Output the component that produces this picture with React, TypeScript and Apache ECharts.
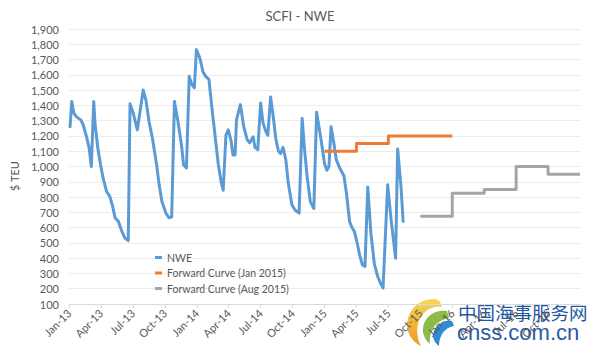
import React, { useEffect, useRef } from "react";
import * as echarts from "echarts";

// ---- data ----
const MONTH_NAMES = ["Jan", "Feb", "Mar", "Apr", "May", "Jun", "Jul", "Aug", "Sep", "Oct", "Nov", "Dec"];
const AXIS_START_YEAR = 2013;

const NWE_DATES = [
  "2013-01-04", "2013-01-09", "2013-01-15", "2013-01-23", "2013-02-04", "2013-02-10", "2013-02-19", "2013-02-26",
  "2013-03-04", "2013-03-11", "2013-03-15", "2013-03-23", "2013-03-31", "2013-04-07", "2013-04-17", "2013-04-26",
  "2013-05-04", "2013-05-11", "2013-05-21", "2013-05-31", "2013-06-09", "2013-06-18", "2013-06-23", "2013-07-02",
  "2013-07-14", "2013-07-31", "2013-08-08", "2013-08-17", "2013-08-27", "2013-09-08", "2013-09-15", "2013-09-23",
  "2013-10-04", "2013-10-13", "2013-10-21", "2013-10-29", "2013-11-08", "2013-11-18", "2013-11-24", "2013-12-02",
  "2013-12-10", "2013-12-18", "2013-12-25", "2013-12-31", "2014-01-10", "2014-01-19", "2014-01-27", "2014-02-05",
  "2014-02-13", "2014-02-21", "2014-03-02", "2014-03-10", "2014-03-16", "2014-03-24", "2014-03-31", "2014-04-08",
  "2014-04-13", "2014-04-19", "2014-04-23", "2014-05-04", "2014-05-14", "2014-05-24", "2014-05-31", "2014-06-10",
  "2014-06-15", "2014-06-23", "2014-07-01", "2014-07-08", "2014-07-16", "2014-07-22", "2014-07-30", "2014-08-06",
  "2014-08-14", "2014-08-22", "2014-08-28", "2014-09-04", "2014-09-12", "2014-09-19", "2014-09-29", "2014-10-08",
  "2014-10-20", "2014-10-29", "2014-11-04", "2014-11-12", "2014-11-21", "2014-12-01", "2014-12-09", "2014-12-22",
  "2015-01-01", "2015-01-08", "2015-01-14", "2015-01-20", "2015-01-28", "2015-02-04", "2015-02-13", "2015-02-24",
  "2015-03-03", "2015-03-12", "2015-03-18", "2015-03-26", "2015-04-03", "2015-04-10", "2015-04-18", "2015-04-25",
  "2015-05-03", "2015-05-12", "2015-05-22", "2015-06-01", "2015-06-10", "2015-06-16", "2015-06-29", "2015-07-09",
  "2015-07-22", "2015-07-28", "2015-08-07", "2015-08-13",
];
const NWE_VALUES = [
  1260, 1425, 1350, 1325, 1305, 1275, 1195, 1120,
  1000, 1425, 1275, 1120, 1010, 925, 835, 805,
  740, 665, 640, 575, 530, 515, 1410, 1350,
  1240, 1500, 1435, 1295, 1185, 1010, 880, 770,
  695, 665, 670, 1425, 1295, 1140, 1010, 990,
  1590, 1535, 1515, 1765, 1710, 1620, 1590, 1570,
  1380, 1205, 1010, 900, 845, 1205, 1240, 1165,
  1075, 1075, 1305, 1405, 1260, 1175, 1155, 1195,
  1125, 1110, 1415, 1285, 1230, 1205, 1455, 1340,
  1185, 1100, 1085, 1125, 1045, 890, 750, 715,
  695, 1315, 1130, 935, 770, 725, 1355, 1175,
  1020, 975, 1000, 1260, 1155, 1045, 990, 940,
  825, 640, 605, 575, 500, 420, 355, 345,
  865, 565, 365, 280, 230, 205, 880, 650,
  400, 1115, 860, 640,
];

const FWD_JAN_DATES = ["2015-01-01", "2015-04-01", "2015-07-01", "2015-10-01", "2016-01-01"];
const FWD_JAN_VALUES = [1100, 1150, 1200, 1200, 1200];

const FWD_AUG_DATES = ["2015-10-01", "2016-01-01", "2016-04-01", "2016-07-01", "2016-10-01", "2017-01-01"];
const FWD_AUG_VALUES = [675, 825, 850, 1000, 950, 950];

const SERIES_NAMES = ["NWE", "Forward Curve (Jan 2015)", "Forward Curve (Aug 2015)"];

// date -> months since Jan of AXIS_START_YEAR
function toMonth(s: string): number {
  const [y, m, d] = s.split("-").map(Number);
  const dim = new Date(y, m, 0).getDate();
  return (y - AXIS_START_YEAR) * 12 + (m - 1) + (d - 1) / dim;
}
function pairs(dates: string[], values: number[]) {
  return dates.map((d, i) => [toMonth(d), values[i]]);
}

const FONT = "Lato, 'Open Sans', sans-serif";
const TXT = "#595959";

echarts.graphic.registerShape(
  "wmSun",
  echarts.graphic.extendPath(
    "M 436 299 C 415 298 404 316 408 331 C 410 338 415 343 421 346 C 415 335 416 320 425 312 C 429 308 435 306 442 307 C 441 303 439 300 436 299 Z",
    {}
  )
);
echarts.graphic.registerShape(
  "wmLeaf",
  echarts.graphic.extendPath(
    "M 447 311 C 432 309 422 320 423 332 C 424 337 426 341 430 344 C 429 332 434 321 449 318 Z",
    {}
  )
);
echarts.graphic.registerShape(
  "wmWave",
  echarts.graphic.extendPath(
    "M 452 321 C 441 319 433 328 433 337 C 434 341 436 344 439 346 C 439 336 444 328 454 326 Z",
    {}
  )
);

export default function App() {
  const ref = useRef<HTMLDivElement>(null);
  useEffect(() => {
    if (!ref.current) return;
    const chart = echarts.init(ref.current, undefined, { renderer: "svg" });
    const option: any = {
      animation: false,
      backgroundColor: "#ffffff",
      textStyle: { fontFamily: FONT },
      title: {
        text: "SCFI - NWE",
        left: "center",
        top: 4,
        textStyle: { fontFamily: FONT, fontSize: 13, fontWeight: "normal", color: TXT },
      },
      grid: { left: 69, right: 20, top: 29, bottom: 46, containLabel: false, outerBoundsMode: "none" },
      legend: {
        orient: "vertical",
        left: 150,
        top: 245,
        itemGap: 0.5,
        itemWidth: 7,
        itemHeight: 3,
        icon: "rect",
        data: SERIES_NAMES,
        textStyle: { fontFamily: FONT, fontSize: 10.5, color: TXT, lineHeight: 15 },
      },
      xAxis: {
        type: "value",
        min: 0,
        max: 48,
        interval: 3,
        splitLine: { show: false },
        axisLine: { show: true, lineStyle: { color: "#d9d9d9" } },
        axisTick: { show: true, length: 4, lineStyle: { color: "#d9d9d9" } },
        axisLabel: {
          rotate: 45,
          margin: 7,
          fontFamily: FONT,
          fontSize: 11,
          color: TXT,
          showMaxLabel: false,
          formatter: (v: number) => {
            const m = Math.round(v);
            if (m >= 48) return "";
            return MONTH_NAMES[m % 12] + "-" + String(13 + Math.floor(m / 12));
          },
        },
      },
      yAxis: {
        type: "value",
        min: 100,
        max: 1900,
        interval: 100,
        axisLine: { show: false },
        axisTick: { show: false },
        splitLine: { lineStyle: { color: "#ececec", width: 1 } },
        axisLabel: {
          fontFamily: FONT,
          fontSize: 11,
          color: TXT,
          margin: 10,
          formatter: (v: number) => v.toLocaleString("en-US"),
        },
      },
      series: [
        {
          name: SERIES_NAMES[0],
          type: "line",
          data: pairs(NWE_DATES, NWE_VALUES),
          showSymbol: false,
          symbol: "none",
          lineStyle: { color: "#5B9BD5", width: 3, join: "round", cap: "round" },
          itemStyle: { color: "#5B9BD5" },
          z: 3,
        },
        {
          name: SERIES_NAMES[1],
          type: "line",
          step: "end",
          data: pairs(FWD_JAN_DATES, FWD_JAN_VALUES),
          showSymbol: false,
          symbol: "none",
          lineStyle: { color: "#ED7D31", width: 3, join: "round" },
          itemStyle: { color: "#ED7D31" },
          z: 4,
        },
        {
          name: SERIES_NAMES[2],
          type: "line",
          step: "end",
          data: pairs(FWD_AUG_DATES, FWD_AUG_VALUES),
          showSymbol: false,
          symbol: "none",
          lineStyle: { color: "#A5A5A5", width: 3, join: "round" },
          itemStyle: { color: "#A5A5A5" },
          z: 4,
        },
      ],
      graphic: [
        {
          type: "text",
          x: 14,
          y: 176,
          rotation: Math.PI / 2,
          style: {
            text: "$ TEU",
            fill: TXT,
            font: "11px " + FONT,
            align: "center",
            verticalAlign: "middle",
          },
        },
        {
          type: "group",
          z: 100,
          children: [
            {
              type: "wmSun",
              x: 0,
              y: 0,
              style: {
                fill: new echarts.graphic.LinearGradient(0, 0, 0, 1, [
                  { offset: 0, color: "#f7d44c" },
                  { offset: 1, color: "#ef9418" },
                ]),
                opacity: 0.95,
              },
            },
            { type: "wmLeaf", x: 0, y: 0, style: { fill: "#88b63e", opacity: 0.95 } },
            { type: "wmWave", x: 0, y: 0, style: { fill: "#2287d2", opacity: 0.95 } },
            {
              type: "text",
              x: 458,
              y: 312,
              style: {
                text: "中国海事服务网",
                fill: "#2356a0",
                font: "18.5px 'Noto Sans CJK SC'",
                verticalAlign: "middle",
              },
            },
            {
              type: "text",
              x: 457,
              y: 332,
              style: {
                text: "cnss.com.cn",
                fill: "#2a5ba8",
                font: "22px 'Liberation Sans', Arial, sans-serif",
                verticalAlign: "middle",
              },
            },
          ],
        },
      ],
    };
    chart.setOption(option);
    return () => chart.dispose();
  }, []);
  return (
    <div
      ref={ref}
      style={{ position: "fixed", left: 0, top: 0, width: 600, height: 350, background: "#fff" }}
    />
  );
}
